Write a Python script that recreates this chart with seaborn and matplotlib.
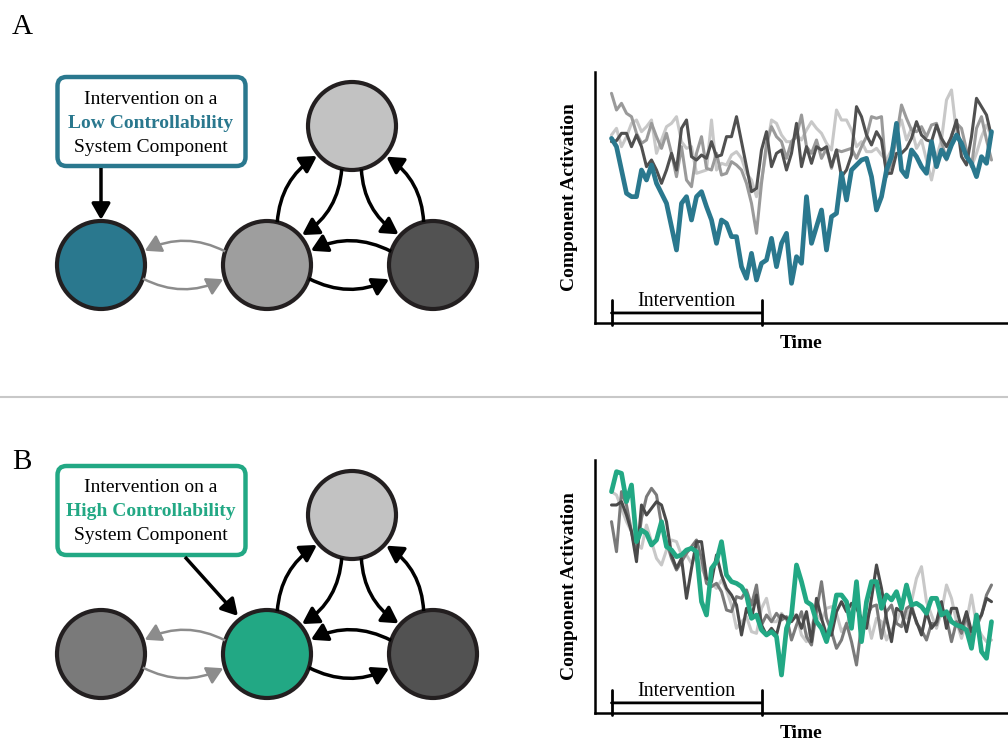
import numpy as np
import pandas as pd
import matplotlib.pyplot as plt
import seaborn as sns
from matplotlib.patches import Circle, FancyArrowPatch, FancyBboxPatch

sns.set_style("white")
plt.rcParams['font.family'] = ['Liberation Serif', 'DejaVu Serif']
plt.rcParams['text.color'] = 'black'
plt.rcParams['axes.labelcolor'] = 'black'

# ---- time series (77 time steps per component) ----
# panel A: intervention on the low controllability (teal) component
a_light = [60.5, 62.5, 57, 60, 64, 65, 61.5, 63, 65, 55,
           59, 63, 64, 66, 58.5, 56.5, 57, 49, 49.5, 50,
           65, 50, 52, 51.5, 54.5, 55.5, 53.5, 49, 47, 42,
           47, 56, 65, 64, 60.5, 58.5, 58.5, 60.5, 59, 62,
           64.5, 62.5, 61, 58, 56, 68, 65, 65, 62, 57,
           58.5, 55.5, 55.5, 56.5, 54.5, 53, 56, 61, 65, 59,
           62.5, 56.5, 59, 53, 47, 54, 59, 71, 74, 61,
           58.5, 55, 51, 55, 60, 63.5, 60]
a_mid = [73, 68, 70, 67, 66, 61, 58, 59, 64, 60,
         56.5, 61, 55, 48, 57, 47, 45, 55, 60, 50.5,
         50, 55, 48.5, 49, 52.5, 51.5, 50, 46, 40, 31,
         46, 58, 63, 60, 58.5, 53.5, 58.5, 60, 66.5, 57,
         55, 59, 53.5, 56.5, 50.5, 56, 55.5, 56, 56.5, 53.5,
         57, 60, 66, 65.5, 66, 48, 52, 60, 69.5, 65.5,
         62, 61.5, 63, 60, 63.5, 64, 58.5, 53, 60.5, 64,
         62.5, 56, 51, 62.5, 66, 59, 53]
a_dark = [58.5, 58.8, 61, 61, 57, 60.5, 57, 51, 53, 50,
          46, 50, 55, 50, 62.5, 65, 54, 53, 54.5, 53.5,
          58.5, 54, 54.5, 60, 60, 66, 58.5, 51, 43.5, 44.5,
          56, 61.5, 51, 55, 56, 50, 55, 64, 51, 57,
          52, 57, 56, 57, 51, 56, 48, 50, 54.5, 69,
          66, 60.5, 57.5, 61.5, 59, 49, 49, 55, 55, 56.5,
          59.5, 64.5, 60.5, 59, 58.5, 63.5, 59.5, 57, 60, 65,
          54, 51.5, 60, 71.5, 69, 66.5, 60]
a_teal = [59.5, 57, 50, 43, 42, 42, 50, 47, 51.5, 46,
          43, 40, 33, 26, 40, 42, 35, 42, 43.5, 39,
          35, 28, 35, 34, 30, 30, 21, 17.5, 25, 17,
          22, 23, 29.5, 21, 28, 31, 16, 24, 22, 42,
          28, 33, 38, 26, 36, 37, 49, 41, 50, 51.5,
          53, 53.5, 48, 38, 42, 50, 54, 64, 50, 48,
          56, 54, 51, 49, 58.5, 51, 56, 53.5, 57.5, 60.5,
          58, 54, 52, 48, 54, 52, 61.5]

# panel B: intervention on the high controllability (green) component
b_light = [69, 68, 64, 60, 57, 53.5, 52, 59, 54, 49,
           47, 51.5, 54.5, 54, 50, 50, 47.5, 50, 46, 43,
           41.5, 40, 42.5, 39.5, 35, 28, 30, 31.5, 27, 26.5,
           34, 37, 30, 30, 32.5, 30.5, 32, 32, 26, 24,
           29, 32, 30.5, 34, 34.5, 32.5, 27, 29, 33, 39,
           30, 32, 25, 31, 30, 24.5, 27.5, 30, 34, 31,
           36, 43, 46.5, 36, 32, 28, 33, 41, 37, 30,
           25, 30, 38, 29, 26, 24, 24.5]
b_mid = [60, 51, 69, 65, 57, 50, 61, 67.5, 70, 68,
         59, 54, 49, 45.5, 48, 50.5, 52.5, 54.5, 49, 41.5,
         40.5, 41.5, 39, 33.5, 33, 37.5, 37, 39.5, 35, 41,
         29, 32, 30, 32.5, 30.5, 31.5, 24.5, 29, 33, 25.5,
         23, 33, 42, 31, 27, 22, 24.5, 29.5, 24, 17,
         29, 31, 34.5, 35, 25, 33, 35, 29.5, 28.5, 34,
         35, 29.5, 27.5, 24.5, 29.5, 29, 34.5, 31, 24, 30,
         26.5, 32, 24.5, 28.5, 32, 38, 41]
b_dark = [65, 65, 66, 62, 57, 48, 65, 62, 64, 66,
          65, 60, 50, 46, 49, 37, 46, 54, 54, 43,
          42, 50, 44, 40, 38, 35, 26, 34, 31, 38,
          29, 26, 28, 26, 32, 31, 30, 32, 28, 33,
          24, 37, 31, 26, 26, 33, 36, 33, 35.5, 34,
          31, 28, 37, 47, 40, 31, 24, 34, 33, 27,
          34, 30, 26, 33, 28, 30, 36, 28, 34, 34,
          28, 33, 27, 30, 32, 37, 36]
b_green = [69, 75, 74.5, 66, 71, 54, 57.5, 56.5, 53, 54.5,
           60, 52.5, 51.5, 49.5, 50, 51.5, 52, 51, 36, 32,
           46, 48, 54, 44, 42, 41.5, 40.5, 38, 31, 32,
           27.5, 26, 27, 25.5, 14, 28, 32, 47, 42, 36,
           35, 30, 28, 24, 30, 38, 38, 36, 28, 42,
           24, 36, 42, 42, 34, 38, 36.5, 39, 34, 41,
           35, 35.5, 34.5, 32.5, 37, 37, 32, 33, 30, 29,
           28.5, 27.5, 22, 32, 21, 19, 30]

intervention_start, intervention_end = 0, 30

TEAL = '#2A788E'
GREEN = '#22A884'
EDGE = '#231F20'
HEAD = "-|>,head_length=0.7,head_width=0.4"


def to_long(series):
    frames = []
    for name, vals in series.items():
        frames.append(pd.DataFrame({'time': np.arange(len(vals)),
                                    'activation': vals,
                                    'component': name}))
    return pd.concat(frames, ignore_index=True)


df_a = to_long({'light': a_light, 'mid': a_mid, 'dark': a_dark, 'target': a_teal})
df_b = to_long({'light': b_light, 'mid': b_mid, 'dark': b_dark, 'target': b_green})

fig = plt.figure(figsize=(10.08, 7.42), dpi=100)

# background axes in pixel units for the network sketches
bg = fig.add_axes([0, 0, 1, 1])
bg.set_xlim(0, 1008)
bg.set_ylim(742, 0)
bg.axis('off')

R = 44


def node_pt(c, ang, r):
    a = np.deg2rad(ang)
    return (c[0] + r * np.cos(a), c[1] - r * np.sin(a))


def link(src, dst, side, color, lw):
    dx, dy = dst[0] - src[0], -(dst[1] - src[1])
    th = np.degrees(np.arctan2(dy, dx))
    p1 = node_pt(src, th + side * 18, R)
    p2 = node_pt(dst, th + 180 - side * 18, R + 2)
    bg.add_patch(FancyArrowPatch(p1, p2, connectionstyle=f"arc3,rad={-side * 0.25}",
                                 arrowstyle=HEAD, mutation_scale=14, color=color, lw=lw,
                                 shrinkA=0, shrinkB=0, capstyle='butt', zorder=4))


def network(dy, colors, box_color, word, arrow_from, arrow_to):
    n0, n1, n2, n3 = (101, 265 + dy), (267, 265 + dy), (352, 126 + dy), (433, 265 + dy)
    for c, fc in zip([n0, n1, n2, n3], colors):
        bg.add_patch(Circle(c, R, facecolor=fc, edgecolor=EDGE, lw=3, zorder=3))
    link(n1, n0, -1, '#8C8C8C', 1.8)
    link(n0, n1, -1, '#8C8C8C', 1.8)
    link(n3, n1, -1, 'black', 2.5)
    link(n1, n3, -1, 'black', 2.5)
    link(n1, n2, 1, 'black', 2.5)
    link(n2, n1, 1, 'black', 2.5)
    link(n3, n2, -1, 'black', 2.5)
    link(n2, n3, -1, 'black', 2.5)

    bg.add_patch(FancyBboxPatch((57.5, 77 + dy), 188, 89,
                                boxstyle="round,pad=0,rounding_size=9",
                                facecolor='white', edgecolor=box_color, lw=3.2, zorder=3))
    bg.text(151, 99 + dy, 'Intervention on a', ha='center', va='center', fontsize=14)
    bg.text(151, 123 + dy, word + ' Controllability', ha='center', va='center',
            fontsize=14, fontweight='bold', color=box_color)
    bg.text(151, 147 + dy, 'System Component', ha='center', va='center', fontsize=14)
    bg.add_patch(FancyArrowPatch((arrow_from[0], arrow_from[1] + dy),
                                 (arrow_to[0], arrow_to[1] + dy),
                                 arrowstyle=HEAD, mutation_scale=14, color='black', lw=2.5,
                                 shrinkA=0, shrinkB=0, capstyle='butt', zorder=4))


network(0, [TEAL, '#9E9E9E', '#C2C2C2', '#525252'], TEAL, 'Low',
        (101, 168), (101, 220))
network(389, ['#7A7A7A', GREEN, '#C2C2C2', '#525252'], GREEN, 'High',
        (185, 168), (238, 227))

bg.text(12, 34, 'A', fontsize=21, va='baseline')
bg.text(12, 469, 'B', fontsize=21, va='baseline')
bg.plot([0, 1008], [397, 397], color='#C8C8C8', lw=1.5)


def series_panel(ax, df, palette, ylim):
    widths = {'light': 2.2, 'mid': 2.2, 'dark': 2.2, 'target': 3.4}
    for comp in ['light', 'mid', 'dark', 'target']:
        sns.lineplot(data=df[df['component'] == comp], x='time', y='activation',
                     color=palette[comp], linewidth=widths[comp], ax=ax)
    ax.set_xlim(-3.3, 79.3)
    ax.set_ylim(*ylim)
    ax.set_xticks([])
    ax.set_yticks([])
    for s in ['top', 'right']:
        ax.spines[s].set_visible(False)
    for s in ['left', 'bottom']:
        ax.spines[s].set_color('black')
        ax.spines[s].set_linewidth(1.8)
    ax.set_xlabel('Time', fontsize=14, fontweight='bold', labelpad=9)
    ax.set_ylabel('Component Activation', fontsize=14, fontweight='bold', labelpad=12)
    tr = ax.get_xaxis_transform()
    ax.annotate('', xy=(intervention_start, 0.04), xytext=(intervention_end, 0.04),
                xycoords=tr, textcoords=tr,
                arrowprops=dict(arrowstyle='|-|,widthA=0.45,widthB=0.45', lw=2,
                                color='black', shrinkA=0, shrinkB=0, mutation_scale=20))
    ax.text((intervention_start + intervention_end) / 2, 0.085, 'Intervention',
            transform=tr, ha='center', va='center', fontsize=14.5)
    ax.patch.set_alpha(0)


axA = fig.add_axes([595 / 1008, 419 / 742, 413 / 1008, 251 / 742])
series_panel(axA, df_a, {'light': '#C8C8C8', 'mid': '#9A9A9A', 'dark': '#505050',
                         'target': TEAL}, (4.1, 79.4))
axB = fig.add_axes([595 / 1008, 29 / 742, 413 / 1008, 253 / 742])
series_panel(axB, df_b, {'light': '#C8C8C8', 'mid': '#7A7A7A', 'dark': '#4A4A4A',
                         'target': GREEN}, (2.6, 78.5))

fig.savefig('out.png', dpi=100)
